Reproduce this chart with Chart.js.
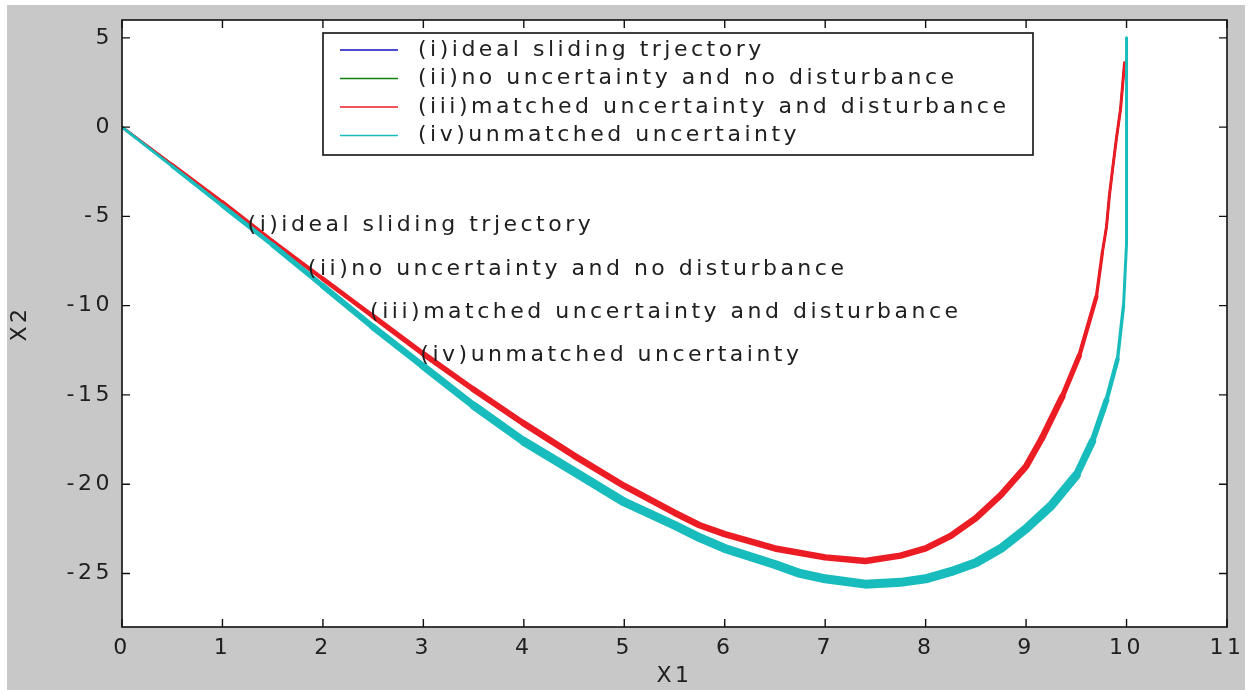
<!DOCTYPE html>
<html>
<head>
<meta charset="utf-8">
<title>Sliding trajectories X1-X2</title>
<script src="https://cdn.jsdelivr.net/npm/chart.js@4/dist/chart.umd.min.js"></script>
<style>
  html, body { margin: 0; padding: 0; background: #fff; }
  canvas { display: block; }
</style>
</head>
<body>
<canvas id="phase" width="1248" height="690"></canvas>
<script>
// phase-plane trajectories, values
const x1Nominal = [0, 0.5, 1, 1.5, 2, 2.5, 3, 3.5, 4, 4.5, 5, 5.5, 5.75, 6, 6.5, 7, 7.4, 7.75, 8, 8.25, 8.5, 8.75, 9, 9.16, 9.36, 9.53, 9.7, 9.76, 9.8, 9.83, 9.86, 9.9, 9.94, 9.98]
const x2Nominal = [0, -2.1, -4.2, -6.4, -8.5, -10.6, -12.7, -14.7, -16.6, -18.4, -20.1, -21.6, -22.3, -22.8, -23.6, -24.1, -24.3, -24.0, -23.6, -22.9, -21.9, -20.6, -19.0, -17.4, -15.1, -12.8, -9.5, -7.0, -5.6, -3.8, -2.4, -0.6, 1.0, 3.6]

const x1Unmatched = [0, 0.5, 1, 1.5, 2, 2.5, 3, 3.5, 4, 4.5, 5, 5.5, 5.75, 6, 6.5, 6.75, 7, 7.4, 7.75, 8, 8.25, 8.5, 8.75, 9, 9.25, 9.5, 9.66, 9.8, 9.91, 9.97, 10.0, 10.0]
const x2Unmatched = [0, -2.2, -4.4, -6.6, -8.9, -11.2, -13.4, -15.6, -17.6, -19.3, -21.0, -22.3, -23.0, -23.6, -24.5, -25.0, -25.3, -25.6, -25.5, -25.3, -24.9, -24.4, -23.6, -22.5, -21.2, -19.5, -17.6, -15.3, -13.0, -10.0, -6.5, 5.0]

const seriesLabels = [
  '(i)ideal sliding trjectory',
  '(ii)no uncertainty and no disturbance',
  '(iii)matched uncertainty and disturbance',
  '(iv)unmatched uncertainty'
]
const seriesColors = ['#1010c0', '#108010', '#ec1c24', '#19bcbc']

// text() labels placed on the plot
const noteX = [1.25, 1.85, 2.47, 2.97]
const noteY = [-5.5, -7.95, -10.35, -12.8]

const xTickValues = [0, 1, 2, 3, 4, 5, 6, 7, 8, 9, 10, 11]
const yTickValues = [-25, -20, -15, -10, -5, 0, 5]

const FAMILY = "'DejaVu Sans', Verdana, sans-serif"
const FONT = '22px ' + FAMILY
const SPACING = '3.5px'
const INK = '#202020'

const toPoints = (xs, ys) => xs.map((x, i) => ({ x: x, y: ys[i] }))

// chattering band: thin at the start, widest along the bottom, thin again on the way up
function bandWidth(thin, wide, rampTo, xEnd) {
  return ctx => {
    const x = ctx.p0.parsed.x
    const k = Math.max(0, Math.min(1, x / rampTo, (xEnd - x) / 0.6))
    return thin + (wide - thin) * k
  }
}

// MATLAB style frame: grey figure, inward ticks on all four sides, legend box, notes
const matlabFrame = {
  id: 'matlabFrame',
  beforeUpdate(chart) {
    chart.ctx.letterSpacing = SPACING
  },
  beforeDraw(chart) {
    const { ctx, chartArea: a } = chart
    ctx.letterSpacing = SPACING
    ctx.save()
    ctx.fillStyle = '#c8c8c8'
    ctx.fillRect(7, 5, 1238, 685)
    ctx.fillStyle = '#ffffff'
    ctx.fillRect(a.left, a.top, a.right - a.left, a.bottom - a.top)
    ctx.restore()
  },
  afterDraw(chart) {
    const { ctx, chartArea: a, scales } = chart
    ctx.save()
    ctx.strokeStyle = '#111'
    ctx.lineWidth = 1.6
    ctx.strokeRect(a.left, a.top, a.right - a.left, a.bottom - a.top)

    ctx.lineWidth = 1.4
    ctx.beginPath()
    scales.x.ticks.forEach(t => {
      const px = scales.x.getPixelForValue(t.value)
      ctx.moveTo(px, a.bottom); ctx.lineTo(px, a.bottom - 8)
      ctx.moveTo(px, a.top); ctx.lineTo(px, a.top + 8)
    })
    scales.y.ticks.forEach(t => {
      const py = scales.y.getPixelForValue(t.value)
      ctx.moveTo(a.left, py); ctx.lineTo(a.left + 8, py)
      ctx.moveTo(a.right, py); ctx.lineTo(a.right - 8, py)
    })
    ctx.stroke()

    ctx.font = FONT
    ctx.letterSpacing = SPACING
    ctx.fillStyle = INK
    ctx.textAlign = 'left'
    ctx.textBaseline = 'middle'

    // notes on the curves
    seriesLabels.forEach((txt, i) => {
      ctx.fillText(txt, scales.x.getPixelForValue(noteX[i]), scales.y.getPixelForValue(noteY[i]))
    })

    // legend box
    const box = { left: 323, top: 33, right: 1033, bottom: 155 }
    ctx.fillStyle = '#ffffff'
    ctx.fillRect(box.left, box.top, box.right - box.left, box.bottom - box.top)
    ctx.lineWidth = 1.6
    ctx.strokeStyle = '#111'
    ctx.strokeRect(box.left, box.top, box.right - box.left, box.bottom - box.top)
    chart.data.datasets.forEach((ds, i) => {
      const y = 50 + i * 28.5
      ctx.strokeStyle = ds.borderColor
      ctx.lineWidth = 1.5
      ctx.beginPath()
      ctx.moveTo(340, y); ctx.lineTo(398, y)
      ctx.stroke()
      ctx.fillStyle = INK
      ctx.fillText(ds.label, 418, y)
    })
    ctx.restore()
  }
}

const ctx = document.getElementById('phase').getContext('2d')

new Chart(ctx, {
  type: 'line',
  data: {
    datasets: [
      {
        label: seriesLabels[0],
        data: toPoints(x1Nominal, x2Nominal),
        borderColor: seriesColors[0],
        borderWidth: 2,
        order: 3
      },
      {
        label: seriesLabels[1],
        data: toPoints(x1Nominal, x2Nominal),
        borderColor: seriesColors[1],
        borderWidth: 2,
        order: 2
      },
      {
        label: seriesLabels[2],
        data: toPoints(x1Nominal, x2Nominal),
        borderColor: seriesColors[2],
        borderWidth: 5,
        segment: { borderWidth: bandWidth(3, 6.5, 4, 9.75) },
        order: 1
      },
      {
        label: seriesLabels[3],
        data: toPoints(x1Unmatched, x2Unmatched),
        borderColor: seriesColors[3],
        borderWidth: 7,
        segment: { borderWidth: bandWidth(3, 9, 4, 9.95) },
        order: 0
      }
    ]
  },
  options: {
    responsive: false,
    animation: false,
    devicePixelRatio: 1,
    layout: { padding: { top: 20, right: 21, left: 0, bottom: 0 } },
    elements: {
      point: { radius: 0 },
      line: { tension: 0, fill: false, borderJoinStyle: 'round', borderCapStyle: 'round' }
    },
    plugins: {
      legend: { display: false },
      tooltip: { enabled: false }
    },
    scales: {
      x: {
        type: 'linear',
        min: 0,
        max: 11,
        afterBuildTicks: s => { s.ticks = xTickValues.map(v => ({ value: v })) },
        afterFit: s => { s.height = 63; s.paddingLeft = 0; s.paddingRight = 0 },
        grid: { display: false, drawTicks: false },
        border: { display: false },
        ticks: {
          color: INK,
          font: { family: FAMILY, size: 22 },
          padding: 8,
          maxRotation: 0,
          autoSkip: false
        },
        title: {
          display: true,
          text: 'X1',
          color: INK,
          font: { family: FAMILY, size: 22 },
          padding: { top: 0, bottom: 1 }
        }
      },
      y: {
        type: 'linear',
        min: -28,
        max: 6,
        afterBuildTicks: s => { s.ticks = yTickValues.map(v => ({ value: v })) },
        afterFit: s => { s.width = 122; s.paddingTop = 0; s.paddingBottom = 0 },
        grid: { display: false, drawTicks: false },
        border: { display: false },
        ticks: {
          color: INK,
          font: { family: FAMILY, size: 22 },
          padding: 9,
          autoSkip: false
        },
        title: {
          display: true,
          text: 'X2',
          color: INK,
          font: { family: FAMILY, size: 22 },
          padding: { top: 7, bottom: 0 }
        }
      }
    }
  },
  plugins: [matlabFrame]
})
</script>
</body>
</html>
